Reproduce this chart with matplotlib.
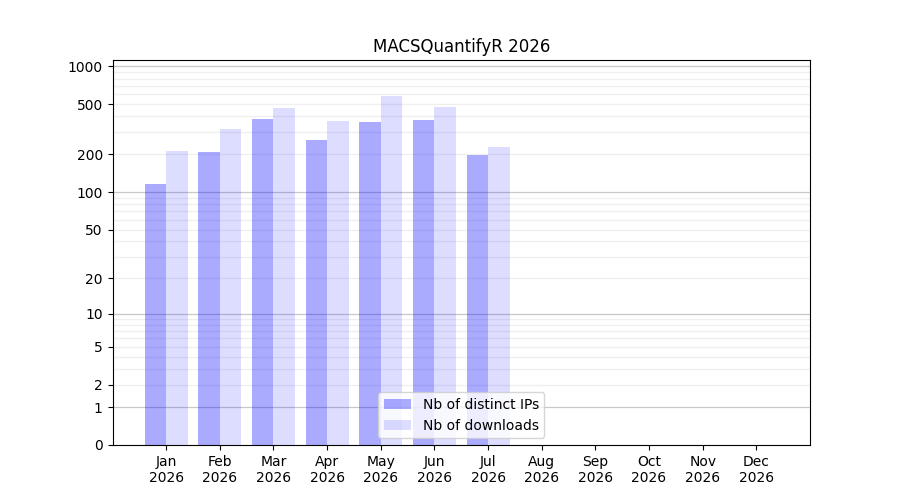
import numpy as np
import matplotlib
matplotlib.use("Agg")
import matplotlib.pyplot as plt
from matplotlib.ticker import FixedLocator, NullFormatter

months = ["Jan", "Feb", "Mar", "Apr", "May", "Jun", "Jul", "Aug", "Sep", "Oct", "Nov", "Dec"]
year = "2026"
distinct_ips = [115, 210, 384, 262, 364, 377, 199]
downloads = [214, 320, 470, 370, 585, 479, 230]
ytick_vals = [0, 1, 2, 5, 10, 20, 50, 100, 200, 500, 1000]

def fwd(y):
    return np.log10(1 + np.clip(y, 0, None))

def inv(y):
    return 10 ** y - 1

fig, ax = plt.subplots(figsize=(9, 5), dpi=100)
ax.set_yscale("function", functions=(fwd, inv))

x_ip = np.arange(len(distinct_ips))
x_dl = np.arange(len(downloads))
w = 0.4
ax.bar(x_ip - w / 2, distinct_ips, width=w, color="blue", alpha=0.333, label="Nb of distinct IPs", zorder=2)
ax.bar(x_dl + w / 2, downloads, width=w, color="blue", alpha=0.133, label="Nb of downloads", zorder=2)

ax.set_xlim(-1, 12)
ax.set_xticks(np.arange(12))
ax.set_xticklabels([f"{m}\n{year}" for m in months])

ax.set_ylim(0, 1123)
ax.yaxis.set_major_locator(FixedLocator(ytick_vals))
ax.set_yticklabels([str(v) for v in ytick_vals])
minor = []
for dec in [1, 10, 100]:
    for k in range(2, 10):
        minor.append(k * dec)
ax.yaxis.set_minor_locator(FixedLocator(minor))
ax.yaxis.set_minor_formatter(NullFormatter())
ax.tick_params(axis="y", which="minor", length=0)

for v in [1, 10, 100, 1000]:
    ax.axhline(v, color="#c8c8c8", linewidth=0.9, zorder=1)
for v in minor:
    if v not in (1, 10, 100, 1000):
        ax.axhline(v, color="#efefef", linewidth=0.9, zorder=1)

ax.set_title("MACSQuantifyR 2026")
ax.legend(loc="lower center")

fig.savefig("out.png", dpi=100)
